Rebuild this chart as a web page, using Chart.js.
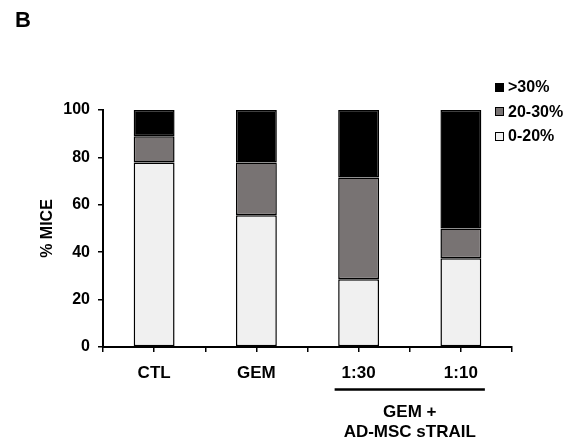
<!DOCTYPE html>
<html>
<head>
<meta charset="utf-8">
<script src="https://cdn.jsdelivr.net/npm/chart.js@4/dist/chart.umd.min.js"></script>
<style>
html,body{margin:0;padding:0;background:#fff;}
#wrap{position:relative;width:577px;height:441px;}
#letter{position:absolute;left:15px;top:7px;font:bold 22px "Liberation Sans",Arial,sans-serif;}
#legend{position:absolute;left:495px;top:75px;font:bold 16px "Liberation Sans",Arial,sans-serif;}
#legend div{display:flex;align-items:center;height:24.5px;}
#legend .box{width:7px;height:7px;border:1px solid #000;margin-right:4px;}
</style>
</head>
<body>
<div id="wrap">
  <canvas id="chart" width="577" height="441"></canvas>
  <div id="letter">B</div>
  <div id="legend"></div>
</div>
<script>
// data
const categories = ['CTL', 'GEM', '1:30', '1:10'];
const low  = [77.8, 55.6, 28.6, 37.5];   // 0-20%
const mid  = [11.1, 22.2, 42.9, 12.5];   // 20-30%
const high = [11.1, 22.2, 28.6, 50.0];   // >30%
const seriesNames = ['0-20%', '20-30%', '>30%'];
const seriesColors = ['#f0f0f0', '#787373', '#000000'];
const groupLabel = ['GEM +', 'AD-MSC sTRAIL'];

const FONT = '"Liberation Sans", Arial, sans-serif';
Chart.defaults.color = '#000';

const toPoints = arr => arr.map((v, i) => ({x: i, y: v}));
const datasets = [low, mid, high].map((arr, k) => ({
  label: seriesNames[k],
  data: toPoints(arr),
  backgroundColor: seriesColors[k],
  borderColor: '#000',
  borderWidth: 1.5,
  borderSkipped: false,
  barPercentage: 0.8,   // ruler is the half-step tick spacing
  categoryPercentage: 1
}));

// html legend, top series first
const legendEl = document.getElementById('legend');
[2, 1, 0].forEach(k => {
  const d = document.createElement('div');
  d.innerHTML = `<span class="box" style="background:${seriesColors[k]}"></span>${seriesNames[k]}`;
  legendEl.appendChild(d);
});

// bracket under the two treatment groups
const groupBracket = {
  id: 'groupBracket',
  afterDraw(chart){
    const ctx = chart.ctx, xs = chart.scales.x;
    const a = xs.getPixelForValue(2) - 24, b = xs.getPixelForValue(3) + 24;
    ctx.save();
    ctx.strokeStyle = '#000'; ctx.lineWidth = 2.5;
    ctx.beginPath(); ctx.moveTo(a, 389.5); ctx.lineTo(b, 389.5); ctx.stroke();
    ctx.fillStyle = '#000';
    ctx.font = 'bold 17px ' + FONT;
    ctx.textAlign = 'center'; ctx.textBaseline = 'middle';
    const mx = (a + b) / 2;
    ctx.fillText(groupLabel[0], mx, 412);
    ctx.fillText(groupLabel[1], mx, 432);
    ctx.restore();
  }
};

new Chart(document.getElementById('chart'), {
  type: 'bar',
  data: {datasets},
  plugins: [groupBracket],
  options: {
    responsive: false,
    animation: false,
    layout: {padding: {top: 110, right: 65, left: 0, bottom: 0}},
    plugins: {legend: {display: false}, tooltip: {enabled: false}},
    scales: {
      x: {
        type: 'linear',
        stacked: true,
        min: -0.5, max: 3.5,
        offset: false,
        afterFit: s => { s.height = 94; },
        ticks: {
          stepSize: 0.5,
          autoSkip: false,
          maxRotation: 0,
          padding: 11,
          font: {family: FONT, size: 17, weight: 'bold'},
          callback: v => Number.isInteger(v) ? categories[v] : ''
        },
        grid: {offset: false, drawOnChartArea: false, tickLength: 5, color: '#000', lineWidth: 1.5},
        border: {color: '#000', width: 2}
      },
      y: {
        stacked: true,
        min: 0, max: 100,
        afterFit: s => { s.width = 103; },
        ticks: {stepSize: 20, padding: 8, font: {family: FONT, size: 16, weight: 'bold'}},
        grid: {drawOnChartArea: false, tickLength: 5, color: '#000', lineWidth: 1.5},
        border: {color: '#000', width: 2},
        title: {display: true, text: '% MICE', padding: {top: 38, bottom: 0},
                font: {family: FONT, size: 16, weight: 'bold'}}
      }
    }
  }
});
</script>
</body>
</html>
